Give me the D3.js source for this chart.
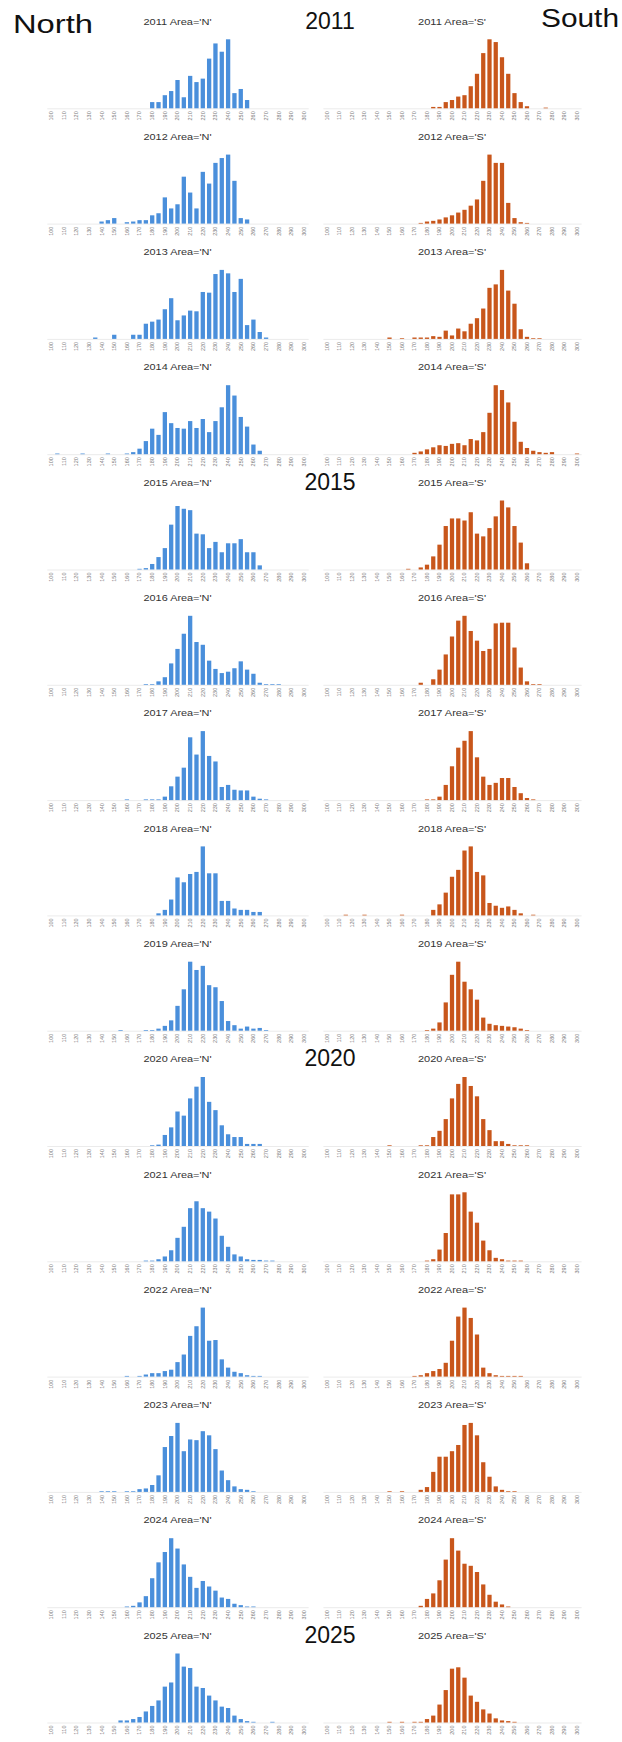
<!DOCTYPE html>
<html>
<head>
<meta charset="utf-8">
<script src="https://cdn.jsdelivr.net/npm/d3@7"></script>
<style>
  body { margin: 0; background: #fff; }
  svg text { font-family: "Liberation Sans", Arial, Helvetica, sans-serif; }
</style>
</head>
<body>
<div id="content"></div>
<script>
// categories
var years = [2011, 2012, 2013, 2014, 2015, 2016, 2017, 2018, 2019, 2020, 2021, 2022, 2023, 2024, 2025];
var bins = d3.range(100, 301, 5);
var tickLabels = [100, 110, 120, 130, 140, 150, 160, 170, 180, 190, 200, 210, 220, 230, 240, 250, 260, 270, 280, 290, 300];
var markerYears = [2011, 2015, 2020, 2025];

// North: first bin of each year, then bar heights (tallest bar ~100)
var northFirstBin = [180, 140, 135, 105, 170, 175, 160, 185, 155, 180, 175, 160, 140, 160, 155];
var northCounts = [
  [9, 9, 19, 25, 41, 16, 47, 38, 43, 72, 94, 82, 100, 22, 28, 12],
  [3, 5, 8, 0, 2, 3, 5, 5, 12, 15, 38, 22, 28, 68, 45, 22, 75, 58, 88, 95, 100, 62, 8, 6],
  [2, 0, 0, 6, 0, 0, 6, 6, 22, 25, 28, 43, 59, 27, 34, 41, 40, 68, 67, 94, 100, 95, 68, 87, 20, 28, 10, 2],
  [1, 0, 0, 0, 1, 0, 0, 0, 1, 0, 0, 1, 3, 8, 19, 37, 28, 61, 45, 38, 37, 48, 38, 51, 32, 48, 68, 100, 85, 54, 40, 14, 5],
  [1, 2, 8, 18, 31, 65, 92, 88, 86, 52, 51, 31, 40, 25, 38, 38, 44, 25, 25, 6],
  [1, 1, 5, 11, 31, 52, 74, 100, 62, 58, 35, 23, 17, 19, 24, 34, 22, 16, 3, 1, 1, 1],
  [1, 0, 0, 1, 1, 1, 5, 20, 34, 47, 91, 66, 100, 64, 56, 19, 22, 15, 14, 14, 5, 2, 1],
  [3, 8, 23, 55, 48, 60, 63, 100, 61, 61, 21, 21, 10, 8, 8, 5, 5],
  [1, 0, 0, 0, 1, 1, 3, 7, 15, 36, 60, 100, 88, 94, 66, 63, 43, 14, 8, 3, 6, 3, 4, 1],
  [1, 2, 16, 27, 50, 44, 69, 86, 100, 64, 52, 30, 17, 13, 13, 3, 3, 3],
  [1, 1, 3, 7, 16, 34, 50, 77, 87, 77, 72, 62, 37, 21, 10, 7, 3, 2, 2, 1, 1],
  [1, 0, 1, 3, 5, 5, 8, 10, 21, 32, 59, 73, 100, 52, 53, 25, 13, 7, 5, 2, 1, 1],
  [1, 1, 1, 0, 1, 1, 4, 5, 10, 24, 65, 81, 100, 59, 76, 75, 88, 82, 62, 31, 17, 8, 4, 3, 1],
  [1, 2, 7, 16, 42, 65, 80, 100, 85, 62, 44, 28, 38, 30, 24, 14, 12, 5, 3, 1, 1],
  [3, 3, 5, 8, 16, 24, 32, 52, 58, 100, 81, 79, 52, 50, 39, 32, 23, 21, 10, 5, 2, 1, 0, 0, 1]
];

// South
var southFirstBin = [185, 175, 150, 170, 165, 175, 180, 115, 180, 150, 180, 170, 150, 175, 150];
var southCounts = [
  [2, 2, 9, 12, 17, 19, 32, 50, 80, 100, 96, 74, 50, 22, 9, 3, 0, 0, 1],
  [1, 3, 4, 6, 9, 12, 16, 20, 26, 35, 62, 100, 88, 88, 30, 8, 2, 1],
  [2, 0, 1, 0, 2, 2, 2, 4, 3, 12, 5, 15, 11, 22, 30, 44, 74, 79, 100, 70, 51, 14, 3, 1, 1],
  [2, 4, 7, 10, 13, 12, 15, 16, 13, 22, 20, 32, 60, 100, 93, 75, 47, 18, 9, 5, 3, 2, 3, 0, 0, 0, 1],
  [1, 0, 3, 7, 19, 36, 63, 74, 74, 71, 83, 52, 48, 60, 77, 100, 90, 63, 39, 9],
  [3, 0, 8, 22, 44, 70, 93, 100, 78, 64, 49, 52, 89, 90, 90, 54, 25, 5, 1, 1],
  [1, 1, 5, 22, 49, 76, 86, 100, 62, 34, 22, 25, 32, 32, 19, 10, 3, 1],
  [1, 0, 0, 1, 0, 0, 0, 0, 0, 1, 0, 0, 0, 0, 8, 16, 33, 56, 66, 94, 100, 63, 58, 18, 14, 11, 13, 8, 3, 0, 1],
  [1, 3, 12, 41, 81, 100, 71, 60, 45, 19, 10, 8, 7, 6, 5, 3, 1],
  [1, 0, 0, 0, 0, 1, 1, 13, 22, 39, 69, 90, 100, 87, 72, 39, 23, 7, 7, 3, 1, 1, 1],
  [1, 3, 17, 41, 97, 97, 100, 72, 56, 30, 16, 5, 3, 1, 1, 1],
  [1, 2, 5, 8, 11, 20, 52, 87, 100, 85, 61, 13, 5, 2, 1, 1, 1, 1],
  [1, 0, 1, 0, 0, 3, 7, 29, 51, 51, 59, 68, 97, 100, 82, 43, 22, 8, 3, 1, 1],
  [2, 12, 20, 39, 69, 100, 82, 63, 60, 51, 33, 18, 8, 4, 1],
  [1, 0, 1, 0, 1, 1, 5, 10, 26, 47, 78, 80, 65, 39, 30, 19, 13, 6, 3, 2, 1]
];

var width = 622, height = 1742;
var rowStep = 115.3, baseY = 108.3;

var svg = d3.select("#content").append("svg")
    .attr("width", width).attr("height", height);

var areas = [
  {code: "N", first: northFirstBin, counts: northCounts, color: "#4a8fdb", range: [46.8, 308.2]},
  {code: "S", first: southFirstBin, counts: southCounts, color: "#c8561b", range: [322.9, 581.1]}
];

var y = d3.scaleLinear().domain([0, 100]).range([0, 69]);

areas.forEach(function(area) {
  var x = d3.scaleBand().domain(bins).range(area.range).padding(0.32);
  var xAxis = d3.axisBottom(x).tickValues(tickLabels).tickSize(0).tickSizeOuter(0).tickPadding(3);
  var cx = (area.range[0] + area.range[1]) / 2;

  years.forEach(function(year, i) {
    var g = svg.append("g").attr("transform", "translate(0," + (i * rowStep) + ")");

    // panel title
    g.append("text")
      .attr("x", cx - 34).attr("y", 24.5)
      .attr("textLength", 68).attr("lengthAdjust", "spacingAndGlyphs")
      .style("font-size", "8.5px").style("fill", "#333")
      .text(year + " Area='" + area.code + "'");

    var data = area.counts[i].map(function(v, k) {
      return {bin: area.first[i] + k * 5, value: v};
    });

    var ax = g.append("g").attr("transform", "translate(0," + baseY + ")").call(xAxis);
    ax.select(".domain").attr("stroke", "#ebebeb");
    ax.selectAll(".tick text")
      .attr("transform", "rotate(-90)")
      .attr("x", -3).attr("y", 0).attr("dy", "0.35em")
      .style("text-anchor", "end")
      .style("font-size", "5.5px")
      .style("fill", "#7a7a7a");

    g.selectAll("rect.bar")
      .data(data)
      .enter()
      .append("rect")
      .attr("class", "bar")
      .attr("x", function(d) { return x(d.bin); })
      .attr("width", x.bandwidth())
      .attr("y", function(d) { return baseY - y(d.value); })
      .attr("height", function(d) { return y(d.value); })
      .attr("fill", area.color);
  });
});

// big labels
svg.append("text").attr("x", 13).attr("y", 33)
  .attr("textLength", 80).attr("lengthAdjust", "spacingAndGlyphs")
  .style("font-size", "25px").style("fill", "#111").text("North");
svg.append("text").attr("x", 541).attr("y", 27)
  .attr("textLength", 78).attr("lengthAdjust", "spacingAndGlyphs")
  .style("font-size", "25px").style("fill", "#111").text("South");

svg.selectAll("text.marker")
  .data(markerYears)
  .enter()
  .append("text")
  .attr("class", "marker")
  .attr("x", 330)
  .attr("y", function(d) { return years.indexOf(d) * rowStep + 28.5; })
  .attr("text-anchor", "middle")
  .style("font-size", "23px").style("fill", "#111")
  .text(function(d) { return d; });
</script>
</body>
</html>
